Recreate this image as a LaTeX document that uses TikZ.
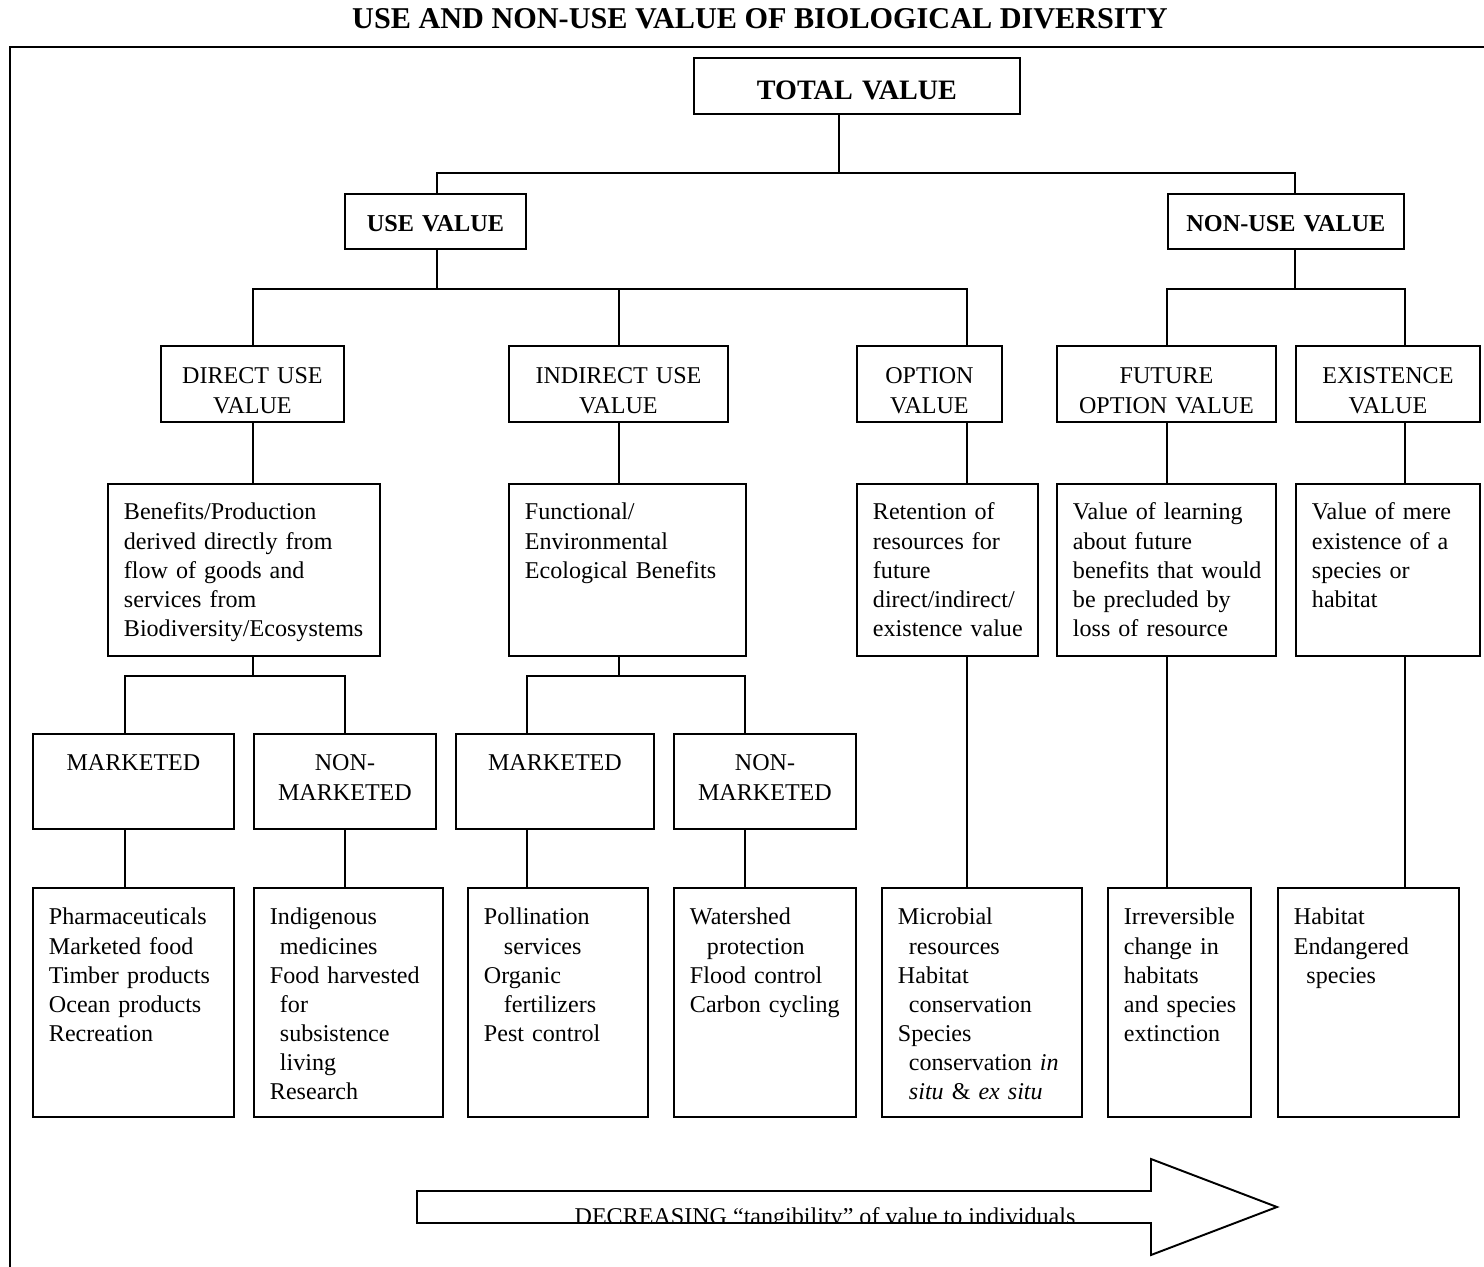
\documentclass[tikz,border=0pt]{standalone}
\usepackage{fontspec}
\setmainfont{Liberation Serif}
\usepackage{tikz}
\hyphenpenalty=10000
\exhyphenpenalty=10000

\begin{document}
\begin{tikzpicture}[
    x=0.02cm, y=-0.02cm,
    line width=1.1pt,
    box/.style = {rectangle, draw, anchor=north west, inner xsep=0.32cm, inner ysep=0pt, font=\fontsize{13.7pt}{16.6pt}\selectfont},
    head/.style = {box, align=center, text height=0.76cm, text depth=0.34cm, font=\fontsize{13.8pt}{16.6pt}\selectfont\bfseries},
    kind/.style = {box, align=center, text height=0.76cm, text depth=0.76cm},
    meaning/.style = {box, align=left, text height=0.72cm, text depth=2.72cm},
    market/.style = {box, align=center, text height=0.74cm, text depth=1.16cm},
    sample/.style = {box, align=left, text height=0.74cm, text depth=3.84cm}
]
\useasboundingbox (0,0) rectangle (1484,1267);

\node (title) [anchor=base, font=\fontsize{17.2pt}{20pt}\selectfont\bfseries] at (760,29) {USE AND NON-USE VALUE OF BIOLOGICAL DIVERSITY};
\draw (10,1267) -- (10,47) -- (1484,47);

% top of the tree
\node (total) [head, text width=5.88cm, text height=0.84cm, text depth=0.28cm, font=\fontsize{16pt}{19pt}\selectfont\bfseries] at (693,57) {TOTAL VALUE};
\node (use) [head, text width=2.98cm] at (344,193) {USE VALUE};
\node (nonuse) [head, text width=4.08cm] at (1167,193) {NON-USE VALUE};

% kinds of value
\node (direct) [kind, text width=3.02cm] at (160,345) {DIRECT USE\\VALUE};
\node (indirect) [kind, text width=3.74cm] at (508,345) {INDIRECT USE\\VALUE};
\node (option) [kind, text width=2.26cm] at (856,345) {OPTION\\VALUE};
\node (future) [kind, text width=3.74cm] at (1056,345) {FUTURE\\OPTION VALUE};
\node (existence) [kind, text width=3.04cm] at (1295,345) {EXISTENCE\\VALUE};

% what each kind means
\node (benefits) [meaning, text width=4.80cm] at (107,483) {Benefits/Production\\derived directly from\\flow of goods and\\services from\\Biodiversity/Ecosystems};
\node (functional) [meaning, text width=4.10cm] at (508,483) {Functional/\\Environmental\\Ecological Benefits};
\node (retention) [meaning, text width=2.98cm] at (856,483) {Retention of\\resources for\\future\\direct/indirect/\\existence~value};
\node (learning) [meaning, text width=3.74cm] at (1056,483) {Value of learning\\about future\\benefits~that~would\\be precluded by\\loss of resource};
\node (mere) [meaning, text width=3.04cm] at (1295,483) {Value of mere\\existence of a\\species or\\habitat};

% marketed or not
\node (mkt1) [market, text width=3.38cm] at (32,733) {MARKETED};
\node (nonmkt1) [market, text width=3.00cm] at (253,733) {NON-\\MARKETED};
\node (mkt2) [market, text width=3.32cm] at (455,733) {MARKETED};
\node (nonmkt2) [market, text width=3.00cm] at (673,733) {NON-\\MARKETED};

% examples
\node (pharma) [sample, text width=3.38cm] at (32,887) {Pharmaceuticals\\Marketed food\\Timber products\\Ocean products\\Recreation};
\node (indigenous) [sample, text width=3.14cm] at (253,887) {Indigenous\\\hspace*{0.2cm}medicines\\Food~harvested\\\hspace*{0.2cm}for\\\hspace*{0.2cm}subsistence\\\hspace*{0.2cm}living\\Research};
\node (pollination) [sample, text width=2.96cm] at (467,887) {Pollination\\\hspace*{0.4cm}services\\Organic\\\hspace*{0.4cm}fertilizers\\Pest control};
\node (watershed) [sample, text width=3.00cm] at (673,887) {Watershed\\\hspace*{0.34cm}protection\\Flood control\\Carbon~cycling};
\node (microbial) [sample, text width=3.36cm] at (881,887) {Microbial\\\hspace*{0.22cm}resources\\Habitat\\\hspace*{0.22cm}conservation\\Species\\\hspace*{0.22cm}conservation~\textit{in}\\\hspace*{0.22cm}\textit{situ} \& \textit{ex situ}};
\node (irreversible) [sample, text width=2.22cm] at (1107,887) {Irreversible\\change~in\\habitats\\and~species\\extinction};
\node (habitat) [sample, text width=2.98cm] at (1277,887) {Habitat\\Endangered\\\hspace*{0.25cm}species};

% total value to use / non-use
\coordinate (bus1) at (839,173);
\draw (total.south -| bus1) -- (bus1);
\draw (use.north -| 437,0) |- (bus1) -| (nonuse.north -| 1295,0);

% use value to its kinds
\coordinate (bus2) at (437,289);
\draw (use.south -| bus2) -- (bus2);
\draw (direct.north -| 253,0) |- (bus2) -| (option.north -| 967,0);
\draw (indirect.north -| 619,0) -- (bus2 -| 619,0);

% non-use value to its kinds
\coordinate (bus3) at (1295,289);
\draw (nonuse.south -| bus3) -- (bus3);
\draw (future.north -| 1167,0) |- (bus3) -| (existence.north -| 1405,0);

% kinds to what they mean
\draw (direct.south -| 253,0) -- (benefits.north -| 253,0);
\draw (indirect.south -| 619,0) -- (functional.north -| 619,0);
\draw (option.south -| 967,0) -- (retention.north -| 967,0);
\draw (future.south -| 1167,0) -- (learning.north -| 1167,0);
\draw (existence.south -| 1405,0) -- (mere.north -| 1405,0);

% marketed / non-marketed
\coordinate (bus4) at (253,676);
\draw (benefits.south -| bus4) -- (bus4);
\draw (mkt1.north -| 125,0) |- (bus4) -| (nonmkt1.north -| 345,0);
\coordinate (bus5) at (619,676);
\draw (functional.south -| bus5) -- (bus5);
\draw (mkt2.north -| 527,0) |- (bus5) -| (nonmkt2.north -| 745,0);

% down to the examples
\draw (mkt1.south -| 125,0) -- (pharma.north -| 125,0);
\draw (nonmkt1.south -| 345,0) -- (indigenous.north -| 345,0);
\draw (mkt2.south -| 527,0) -- (pollination.north -| 527,0);
\draw (nonmkt2.south -| 745,0) -- (watershed.north -| 745,0);
\draw (retention.south -| 967,0) -- (microbial.north -| 967,0);
\draw (learning.south -| 1167,0) -- (irreversible.north -| 1167,0);
\draw (mere.south -| 1405,0) -- (habitat.north -| 1405,0);

% big arrow at the bottom
\draw (417,1191) -- (1151,1191) -- (1151,1159) -- (1277,1207) -- (1151,1255) -- (1151,1223) -- (417,1223) -- cycle;
\begin{scope}
\clip (417,1192) rectangle (1151,1222);
\node (trend) [anchor=base, font=\fontsize{13.7pt}{16.6pt}\selectfont] at (825,1224) {DECREASING “tangibility” of value to individuals};
\end{scope}
\end{tikzpicture}
\end{document}
